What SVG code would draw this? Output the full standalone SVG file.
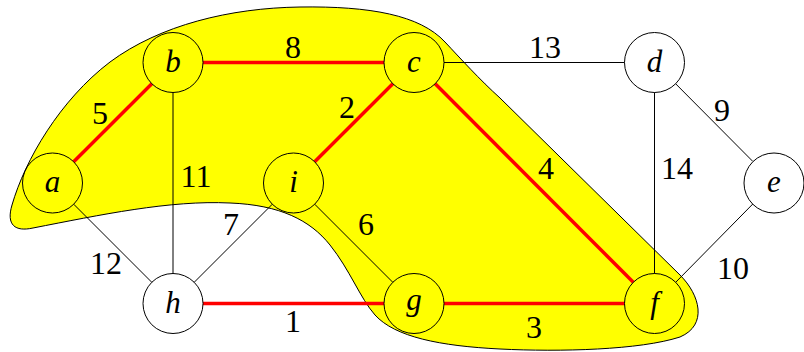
<svg xmlns="http://www.w3.org/2000/svg" width="804" height="352" viewBox="0 0 804 352">
<style>
.n{fill:none;stroke:#000;stroke-width:1}
.e{stroke:#000;stroke-width:1}
.m{stroke:#ff0000;stroke-width:3.5}
</style>
<rect width="804" height="352" fill="#fff"/>
<path id="blob" d="M 33,228 C 15,232 6,225 12,205 C 25,160 60,100 110,62 C 160,25 230,8 300,7 C 370,6 420,15 445,42 C 460,58 480,80 500,98 L 680,275 C 700,295 708,325 680,337 C 640,350 560,352 500,349 C 440,346 395,337 375,315 C 360,298 350,270 330,245 C 310,220 280,205 230,203 C 170,200 100,215 33,228 Z" fill="#ffff00" stroke="#000" stroke-width="1"/>
<g id="connectors">
<line class="m" x1="73.7" y1="161.8" x2="151.8" y2="83.7"/>
<line class="m" x1="203" y1="62.5" x2="384" y2="62.5"/>
<line class="m" x1="392.8" y1="83.7" x2="314.7" y2="161.8"/>
<line class="m" x1="435.2" y1="83.7" x2="633.3" y2="282.3"/>
<line class="m" x1="203" y1="303.5" x2="384" y2="303.5"/>
<line class="m" x1="444" y1="303.5" x2="624.5" y2="303.5"/>
<line class="e" x1="73.7" y1="204.2" x2="151.8" y2="282.3"/>
<line class="e" x1="173" y1="92.5" x2="173" y2="273.5"/>
<line class="e" x1="272.3" y1="204.2" x2="194.2" y2="282.3"/>
<line class="e" x1="314.7" y1="204.2" x2="392.8" y2="282.3"/>
<line class="e" x1="444" y1="62.5" x2="624.5" y2="62.5"/>
<line class="e" x1="654.5" y1="92.5" x2="654.5" y2="273.5"/>
<line class="e" x1="675.7" y1="83.8" x2="752.8" y2="161.4"/>
<line class="e" x1="752.8" y1="204" x2="675.7" y2="282.3"/>
<g font-family="Liberation Serif, DejaVu Serif, serif" font-size="32" text-anchor="middle" fill="#000">
<text x="100" y="124">5</text>
<text x="293" y="58">8</text>
<text x="347" y="118">2</text>
<text x="196" y="187">11</text>
<text x="231" y="235">7</text>
<text x="366" y="235">6</text>
<text x="106" y="274">12</text>
<text x="293" y="332">1</text>
<text x="534" y="338">3</text>
<text x="546" y="179">4</text>
<text x="545" y="58">13</text>
<text x="677" y="179">14</text>
<text x="722" y="121">9</text>
<text x="733" y="279">10</text>
</g>
</g>
<g font-family="Liberation Serif, DejaVu Serif, serif" font-style="italic" font-size="31" text-anchor="middle" fill="#000">
<g id="node-a"><circle class="n" cx="52.5" cy="183" r="30"/><text x="52.5" y="192">a</text></g>
<g id="node-b"><circle class="n" cx="173" cy="62.5" r="30"/><text x="173" y="72">b</text></g>
<g id="node-c"><circle class="n" cx="414" cy="62.5" r="30"/><text x="414" y="72">c</text></g>
<g id="node-d"><circle class="n" cx="654.5" cy="62.5" r="30"/><text x="654.5" y="72">d</text></g>
<g id="node-e"><circle class="n" cx="774" cy="183" r="30"/><text x="774" y="192">e</text></g>
<g id="node-i"><circle class="n" cx="293.5" cy="183" r="30"/><text x="293.5" y="192">i</text></g>
<g id="node-h"><circle class="n" cx="173" cy="303.5" r="30"/><text x="173" y="313">h</text></g>
<g id="node-g"><circle class="n" cx="414" cy="303.5" r="30"/><text x="414" y="310">g</text></g>
<g id="node-f"><circle class="n" cx="654.5" cy="303.5" r="30"/><text x="654.5" y="313">f</text></g>
</g>
</svg>
